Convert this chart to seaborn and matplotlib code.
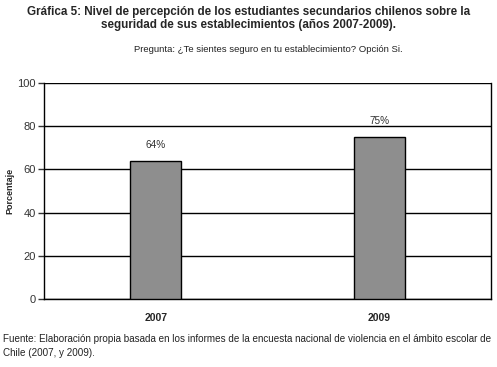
import matplotlib
matplotlib.use("Agg")
import matplotlib.pyplot as plt
import seaborn as sns
import pandas as pd

years = ["2007", "2009"]
porcentaje = [64, 75]
etiquetas = ["64%", "75%"]

sns.set_theme(style="white")
plt.rcParams["font.family"] = ["Liberation Sans", "DejaVu Sans"]

df = pd.DataFrame({"year": years, "pct": porcentaje})

fig = plt.figure(figsize=(4.97, 3.67), dpi=100)
ax = fig.add_axes([0.0885, 0.1853, 0.8995, 0.5887])

sns.barplot(data=df, x="year", y="pct", color="#8e8e8e", width=0.23,
            edgecolor="black", linewidth=1.0, saturation=1, ax=ax, zorder=3)

ax.set_ylim(0, 100)
ax.set_yticks([0, 20, 40, 60, 80, 100])
ax.yaxis.grid(True, color="black", linewidth=1.0, zorder=0)
ax.set_axisbelow(True)
for side in ["left", "right", "bottom"]:
    ax.spines[side].set_color("black")
    ax.spines[side].set_linewidth(1.0)
ax.spines["top"].set_visible(False)

ax.tick_params(axis="y", left=True, length=4, width=1, labelsize=8, colors="#333333", pad=2)
ax.tick_params(axis="x", bottom=False, labelsize=7.5, pad=4)
for lab in ax.get_xticklabels():
    lab.set_fontweight("bold")

ax.set_xlabel("")
ax.set_ylabel("")
fig.text(0.02, 0.48, "Porcentaje", rotation=90, ha="center", va="center",
         fontsize=6.5, fontweight="bold")

for i, (v, t) in enumerate(zip(porcentaje, etiquetas)):
    ax.text(i, v + 5, t, ha="center", va="bottom", fontsize=7.2, color="#333333")

fig.text(0.5, 0.985, "Gráfica 5: Nivel de percepción de los estudiantes secundarios chilenos sobre la\n"
         "seguridad de sus establecimientos (años 2007-2009).",
         ha="center", va="top", fontsize=8.4, fontweight="bold", linespacing=1.15)
fig.text(0.54, 0.865, "Pregunta: ¿Te sientes seguro en tu establecimiento? Opción Si.",
         ha="center", va="center", fontsize=6.8, color="#222222")
fig.text(0.006, 0.058, "Fuente: Elaboración propia basada en los informes de la encuesta nacional de violencia en el ámbito escolar de\n"
         "Chile (2007, y 2009).",
         ha="left", va="center", fontsize=7.1, color="#222222", linespacing=1.45)

fig.savefig("out.png", dpi=100)
